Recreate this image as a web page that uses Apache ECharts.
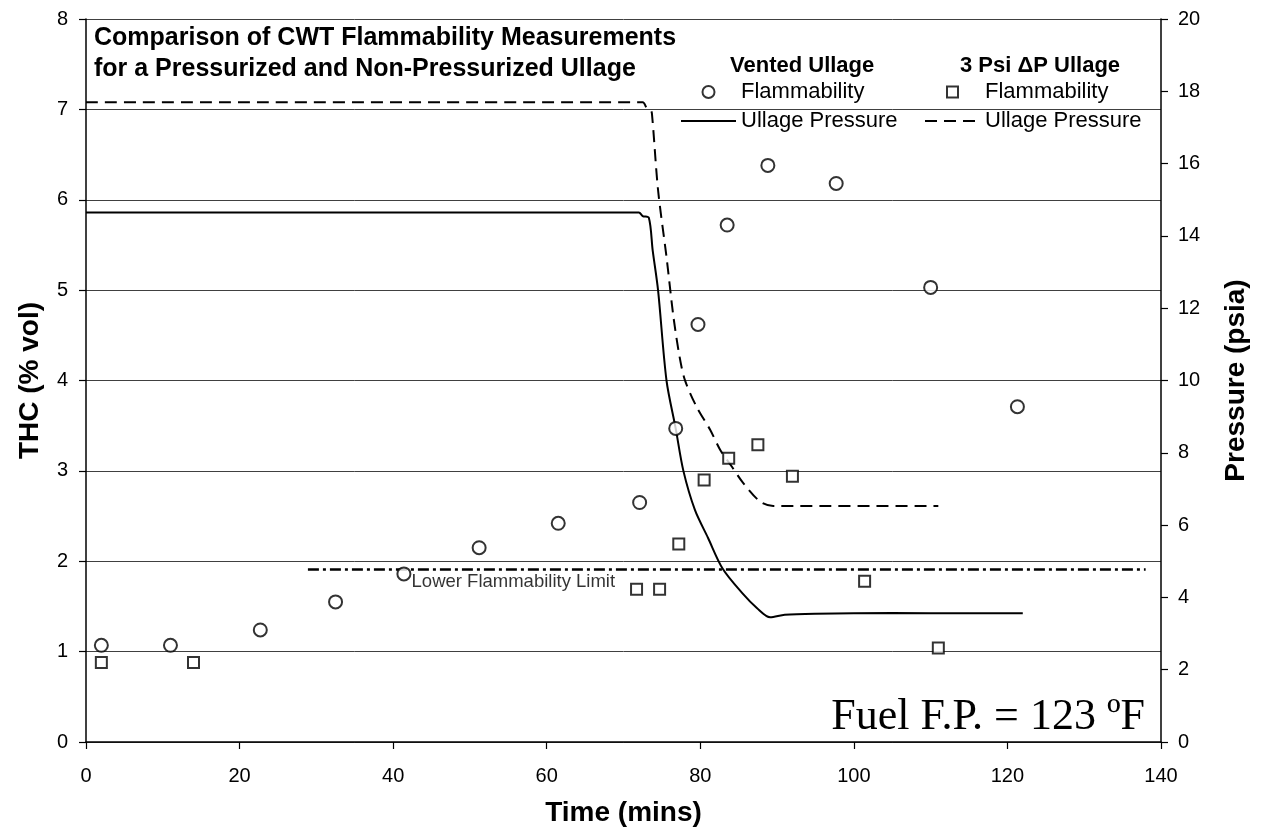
<!DOCTYPE html>
<html>
<head>
<meta charset="utf-8">
<title>CWT Flammability Measurements</title>
<script src="https://cdn.jsdelivr.net/npm/echarts@6/dist/echarts.min.js"></script>
<style>
  html, body { margin: 0; padding: 0; background: #fff; }
  #chart { width: 1263px; height: 833px; }
</style>
</head>
<body>
<div id="chart"></div>
<script>
// Vented ullage - flammability samples (time in mins, THC % vol)
const ventedTime = [2.0, 11.0, 22.7, 32.5, 41.4, 51.2, 61.5, 72.1, 76.8, 79.7, 83.5, 88.8, 97.7, 110.0, 121.3];
const ventedThc = [1.07, 1.07, 1.24, 1.55, 1.86, 2.15, 2.42, 2.65, 3.47, 4.62, 5.72, 6.38, 6.18, 5.03, 3.71];

// 3 psi dP ullage - flammability samples
const psiTime = [2.0, 14.0, 71.7, 74.7, 77.2, 80.5, 83.7, 87.5, 92.0, 101.4, 111.0];
const psiThc = [0.88, 0.88, 1.69, 1.69, 2.19, 2.90, 3.14, 3.29, 2.94, 1.78, 1.04];

// ullage pressure traces (psia)
const ventedPressTime = [0, 72.0, 72.5, 73.3, 73.8, 74.5, 75.6, 76.8, 77.8, 79.3, 81.0, 82.9, 85.5, 87.4, 89.1, 91, 95, 105, 115, 122];
const ventedPress = [14.65, 14.65, 14.55, 14.5, 13.6, 12.5, 10.0, 8.67, 7.5, 6.42, 5.65, 4.80, 4.11, 3.70, 3.45, 3.52, 3.55, 3.57, 3.56, 3.56];

const psiPressTime = [0, 72.5, 73.0, 73.5, 73.7, 74.5, 75.6, 76.5, 77.3, 78.0, 79.5, 81.3, 82.6, 84.1, 85.6, 87.8, 89.5, 111];
const psiPress = [17.7, 17.7, 17.55, 17.5, 17.39, 15.27, 13.42, 11.77, 10.66, 10.01, 9.28, 8.63, 8.08, 7.62, 7.16, 6.65, 6.53, 6.53];

// lower flammability limit
const lflTime = [28.9, 138];
const lflThc = 1.91;

const zip = (xs, ys) => xs.map((x, i) => [x, ys[i]]);

const FONT = '"Liberation Sans", Arial, sans-serif';
const chart = echarts.init(document.getElementById('chart'));

const axisLine = { show: true, lineStyle: { color: '#000', width: 1.5 } };
const axisTick = { show: true, inside: false, length: 7, lineStyle: { color: '#000', width: 1.2 } };
const hollow = { color: '#fff', borderColor: '#000', borderWidth: 2 };
const noSymbol = { color: 'transparent', borderWidth: 0, opacity: 0 };
const squareIcon = 'path://M0,0H10V10H0Z';

const legendText = { fontFamily: FONT, fontSize: 22, color: '#000', lineHeight: 22 };
const headText = { fontFamily: FONT, fontSize: 22, fontWeight: 'bold', color: '#000' };
const axisName = { fontFamily: FONT, fontSize: 28, fontWeight: 'bold', color: '#000' };
const tickText = { fontFamily: FONT, fontSize: 20, color: '#000' };

const option = {
  backgroundColor: '#fff',
  animation: false,
  grid: { left: 86, right: 102, top: 19, bottom: 91, outerBoundsMode: 'none' },
  title: [
    {
      text: 'Comparison of CWT Flammability Measurements\nfor a Pressurized and Non-Pressurized Ullage',
      left: 94, top: 23, padding: 0,
      textStyle: { fontFamily: FONT, fontSize: 25, fontWeight: 'bold', color: '#000', lineHeight: 31 },
    },
    { text: 'Vented Ullage', left: 730, top: 55, padding: 0, textStyle: headText },
    { text: '3 Psi \u0394P Ullage', left: 960, top: 55, padding: 0, textStyle: headText },
  ],
  legend: [
    {
      orient: 'vertical', left: 680, top: 81, padding: 0,
      itemWidth: 55, itemHeight: 12, itemGap: 7,
      selectedMode: false,
      textStyle: legendText,
      formatter: name => name.replace(/^Vented /, ''),
      data: [
        { name: 'Vented Flammability', icon: 'circle', itemStyle: hollow },
        { name: 'Vented Ullage Pressure', itemStyle: noSymbol },
      ],
    },
    {
      orient: 'vertical', left: 924, top: 81, padding: 0,
      itemWidth: 55, itemHeight: 11, itemGap: 7,
      selectedMode: false,
      symbolKeepAspect: true,
      textStyle: legendText,
      formatter: name => name.replace(/^3 Psi /, ''),
      data: [
        { name: '3 Psi Flammability', icon: squareIcon, itemStyle: hollow },
        { name: '3 Psi Ullage Pressure', itemStyle: noSymbol },
      ],
    },
  ],
  xAxis: {
    type: 'value', min: 0, max: 140, interval: 20,
    name: 'Time (mins)', nameLocation: 'middle', nameGap: 57,
    nameTextStyle: axisName,
    axisLine, axisTick,
    axisLabel: { ...tickText, margin: 24 },
    splitLine: { show: false },
  },
  yAxis: [
    {
      type: 'value', min: 0, max: 8, interval: 1,
      name: 'THC (% vol)', nameLocation: 'middle', nameGap: 42, nameRotate: 90,
      nameTextStyle: axisName,
      axisLine, axisTick,
      axisLabel: { ...tickText, margin: 18 },
      splitLine: { show: true, lineStyle: { color: '#404040', width: 1 } },
    },
    {
      type: 'value', min: 0, max: 20, interval: 2, position: 'right',
      name: 'Pressure (psia)', nameLocation: 'middle', nameGap: 61, nameRotate: 90,
      nameTextStyle: axisName,
      axisLine, axisTick,
      axisLabel: { ...tickText, margin: 17 },
      splitLine: { show: false },
    },
  ],
  graphic: [
    {
      type: 'text', right: 118, bottom: 94,
      style: { text: 'Fuel F.P. = 123 \u00baF', font: '44px "Liberation Serif", "Times New Roman", serif', fill: '#000' },
    },
  ],
  series: [
    {
      name: 'Lower Flammability Limit', type: 'line', yAxisIndex: 0,
      data: lflTime.map(t => [t, lflThc]),
      symbol: 'none', silent: true,
      lineStyle: { color: '#000', width: 2.5, type: [11, 4, 3, 4] },
      z: 2,
    },
    {
      // label for the LFL line
      name: 'LFL label', type: 'scatter', yAxisIndex: 0,
      data: [[42.4, 1.77]], symbolSize: 0, silent: true,
      label: { show: true, position: 'right', distance: 0, formatter: 'Lower Flammability Limit',
        fontFamily: FONT, fontSize: 18.5, color: '#000' },
    },
    {
      name: 'Vented Ullage Pressure', type: 'line', yAxisIndex: 1,
      data: zip(ventedPressTime, ventedPress),
      symbol: 'none', smooth: 0.3,
      lineStyle: { color: '#000', width: 2, type: 'solid' },
      itemStyle: { color: '#000' },
      z: 3,
    },
    {
      name: '3 Psi Ullage Pressure', type: 'line', yAxisIndex: 1,
      data: zip(psiPressTime, psiPress),
      symbol: 'none', smooth: 0.3,
      lineStyle: { color: '#000', width: 2, type: [12, 7] },
      itemStyle: { color: '#000' },
      z: 3,
    },
    {
      name: 'Vented Flammability', type: 'scatter', yAxisIndex: 0,
      data: zip(ventedTime, ventedThc),
      symbol: 'circle', symbolSize: 13,
      itemStyle: hollow,
      z: 5,
    },
    {
      name: '3 Psi Flammability', type: 'scatter', yAxisIndex: 0,
      data: zip(psiTime, psiThc),
      symbol: 'rect', symbolSize: 11,
      itemStyle: hollow,
      z: 5,
    },
  ],
};

chart.setOption(option);
window.addEventListener('resize', () => chart.resize());
</script>
</body>
</html>
